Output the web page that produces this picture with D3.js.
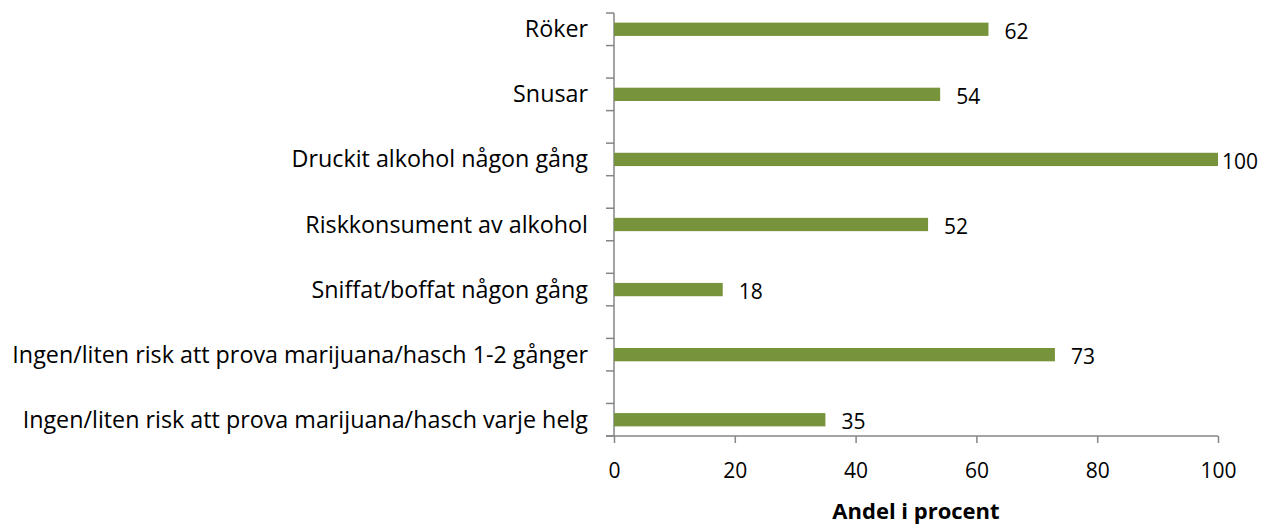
<!DOCTYPE html>
<html>
<head>
<meta charset="utf-8">
<script src="https://cdn.jsdelivr.net/npm/d3@7"></script>
<style>
  body { margin: 0; background: #fff; overflow: hidden; }
  svg { display: block; }
</style>
</head>
<body>
<svg id="mainsvg" width="1278" height="524"></svg>
<script>
// data
const categories = [
    'Röker',
    'Snusar',
    'Druckit alkohol någon gång',
    'Riskkonsument av alkohol',
    'Sniffat/boffat någon gång',
    'Ingen/liten risk att prova marijuana/hasch 1-2 gånger',
    'Ingen/liten risk att prova marijuana/hasch varje helg'
];
const values = [62, 54, 100, 52, 18, 73, 35];
const xTicks = [0, 20, 40, 60, 80, 100];
const xTitle = 'Andel i procent';

const svg = d3.select('#mainsvg');
const margin = {top: 13, left: 614, right: 60, bottom: 88};
const width = +svg.attr('width');
const height = +svg.attr('height');
const innerWidth = 1218 - margin.left;
const innerHeight = height - margin.top - margin.bottom;
const font = '"Open Sans", "Noto Sans", sans-serif';

// excel chart has blank rows between categories -> 13 slots
const slots = [];
categories.forEach((c, i) => {
    slots.push(c);
    if (i < categories.length - 1) slots.push('__gap' + i);
});

const yScale = d3.scaleBand().domain(slots).range([margin.top, margin.top + innerHeight]);
const xScale = d3.scaleLinear().domain([0, 100]).range([margin.left, margin.left + innerWidth]);

const axisColor = '#868686';

// y axis line + ticks at slot boundaries
svg.append('line')
    .attr('x1', margin.left).attr('x2', margin.left)
    .attr('y1', margin.top).attr('y2', margin.top + innerHeight)
    .attr('stroke', axisColor).attr('stroke-width', 1.5);
const bounds = d3.range(slots.length + 1).map(i => margin.top + i * yScale.step());
svg.selectAll('.ytick').data(bounds).enter().append('line')
    .attr('x1', margin.left - 8).attr('x2', margin.left)
    .attr('y1', d => d).attr('y2', d => d)
    .attr('stroke', axisColor).attr('stroke-width', 1.5);

// x axis
const xAxis = d3.axisBottom(xScale).tickValues(xTicks).tickSize(7).tickSizeOuter(0);
const xAxisG = svg.append('g').attr('transform', `translate(0, ${margin.top + innerHeight})`).call(xAxis);
xAxisG.select('.domain').attr('stroke', axisColor).attr('stroke-width', 1.5)
    .attr('d', `M${margin.left - 8},0H${margin.left + innerWidth}`);
xAxisG.selectAll('.tick line').attr('stroke', axisColor).attr('stroke-width', 1.5);
xAxisG.selectAll('.tick text')
    .attr('font-size', '21px')
    .attr('font-family', font)
    .attr('fill', '#000')
    .attr('y', 34.5)
    .attr('dy', '0.35em');

// category labels
svg.selectAll('.catLabel').data(categories).enter().append('text')
    .attr('class', 'catLabel')
    .attr('x', margin.left - 26)
    .attr('y', d => yScale(d) + yScale.bandwidth() / 2 + 8)
    .attr('text-anchor', 'end')
    .attr('font-family', font)
    .attr('font-size', '23.3px')
    .attr('fill', '#000')
    .text(d => d);

// bars
const barH = 13.3;
const rows = categories.map((c, i) => ({name: c, value: values[i]}));
svg.selectAll('.bar').data(rows).enter().append('rect')
    .attr('class', 'bar')
    .attr('x', margin.left)
    .attr('y', d => yScale(d.name) + yScale.bandwidth() / 2 - barH / 2)
    .attr('width', d => xScale(d.value) - margin.left)
    .attr('height', barH)
    .attr('fill', '#77933c');

// value labels
svg.selectAll('.val').data(rows).enter().append('text')
    .attr('class', 'val')
    .attr('x', d => xScale(d.value) + (d.value >= 100 ? 4 : 16))
    .attr('y', d => yScale(d.name) + yScale.bandwidth() / 2 + 9.5)
    .attr('font-family', font)
    .attr('font-size', '21px')
    .attr('fill', '#000')
    .text(d => d.value);

// x title
svg.append('text')
    .attr('x', margin.left + innerWidth / 2)
    .attr('y', 519)
    .attr('text-anchor', 'middle')
    .attr('font-family', font)
    .attr('font-size', '22px')
    .attr('font-weight', 'bold')
    .attr('fill', '#000')
    .text(xTitle);
</script>
</body>
</html>
